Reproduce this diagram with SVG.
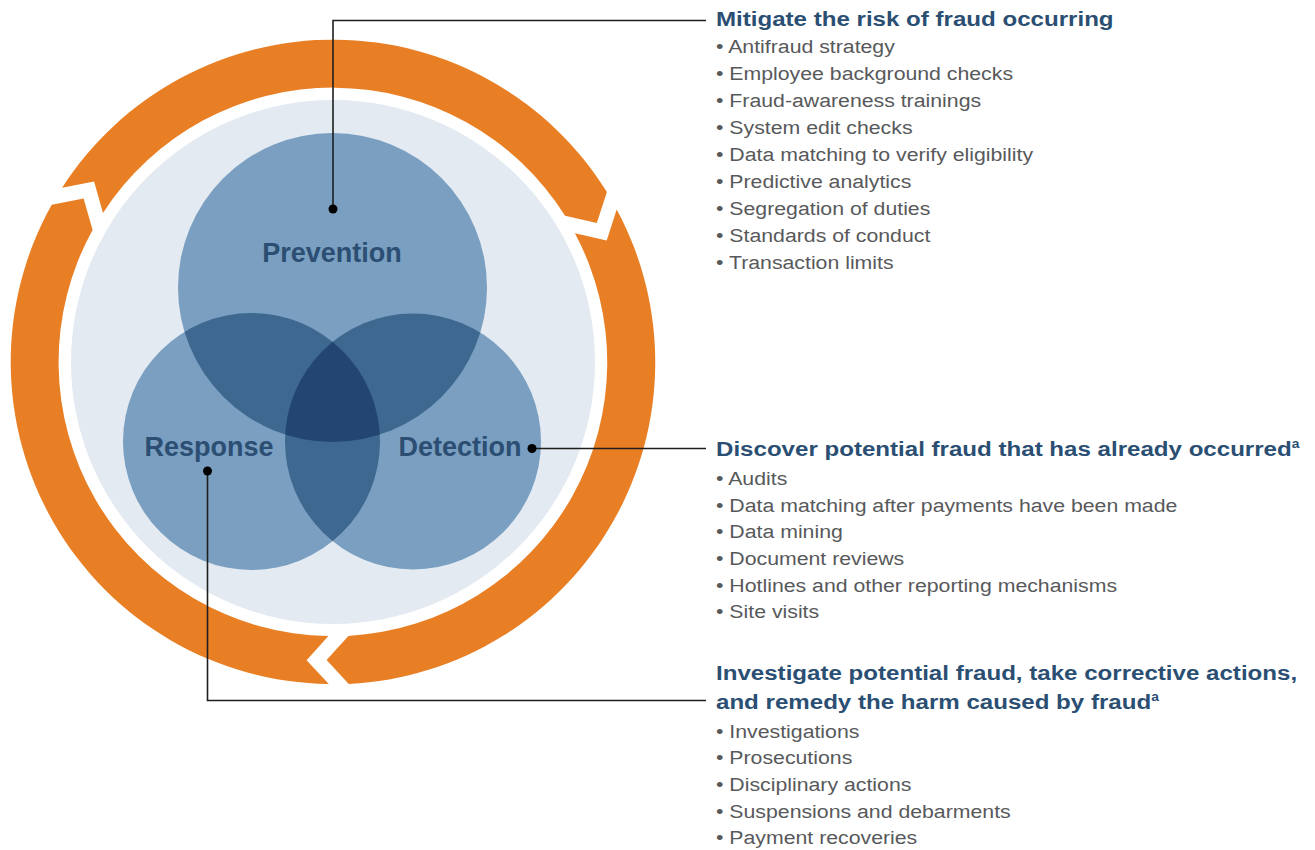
<svg xmlns="http://www.w3.org/2000/svg" width="1315" height="850" viewBox="0 0 1315 850">
<style>
.ring{fill:#e97f24}
.bg{fill:#e3eaf1}
.single{fill:#7a9fc1}
.double{fill:#3e6890}
.triple{fill:#22466f}
.vlabel{font-family:"Liberation Sans",Arial,sans-serif;font-weight:bold;font-size:27px;fill:#2b4e72;text-anchor:middle}
.title{font-family:"Liberation Sans",Arial,sans-serif;font-weight:bold;font-size:21px;fill:#2b4f73}
.item{font-family:"Liberation Sans",Arial,sans-serif;font-size:19px;fill:#58595b}
.conn{fill:none;stroke:#1e1e1e;stroke-width:1.6}
.dot{fill:#000}
</style>
<defs>
<clipPath id="cP"><circle cx="332.5" cy="287.5" r="154.5"/></clipPath>
<clipPath id="cR"><circle cx="251.5" cy="441.5" r="128.5"/></clipPath>
<clipPath id="cD"><circle cx="413" cy="441.5" r="128"/></clipPath>
</defs>
<rect width="1315" height="850" fill="#fff"/>
<g id="cycle-ring">
<path class="ring" d="M62.1,187.8 A322,322 0 0 1 606.9,192.1 L596.8,223.1 L565.1,215.8 A274,274 0 0 0 103.0,212.9 L94.1,181.6 Z"/>
<path class="ring" d="M616.7,209.5 A322,322 0 0 1 348.8,683.9 L326.6,660.1 L348.4,635.9 A274,274 0 0 0 574.9,233.2 L606.7,240.5 Z"/>
<path class="ring" d="M328.8,684.0 A322,322 0 0 1 51.7,204.8 L83.6,198.6 L92.6,229.9 A274,274 0 0 0 328.4,636.1 L306.6,660.2 Z"/>
</g>
<circle id="background-disc" class="bg" cx="333" cy="362" r="262"/>
<g id="venn">
<g id="prevention"><circle class="single" cx="332.5" cy="287.5" r="154.5"/></g>
<g id="response"><circle class="single" cx="251.5" cy="441.5" r="128.5"/></g>
<g id="detection"><circle class="single" cx="413" cy="441.5" r="128"/></g>
<g id="overlaps">
<g clip-path="url(#cP)"><circle class="double" cx="251.5" cy="441.5" r="128.5"/><circle class="double" cx="413" cy="441.5" r="128"/></g>
<g clip-path="url(#cR)"><circle class="double" cx="413" cy="441.5" r="128"/></g>
<g clip-path="url(#cP)"><g clip-path="url(#cR)"><circle class="triple" cx="413" cy="441.5" r="128"/></g></g>
</g>
<text class="vlabel" x="332" y="262">Prevention</text>
<text class="vlabel" x="209" y="456">Response</text>
<text class="vlabel" x="460" y="456">Detection</text>
</g>
<g id="connectors">
<polyline class="conn" points="333,209 333,20.5 706,20.5"/>
<polyline class="conn" points="532,448.5 706,448.5"/>
<polyline class="conn" points="207.5,471 207.5,700.5 706,700.5"/>
<circle class="dot" cx="333" cy="209" r="4.5"/>
<circle class="dot" cx="532" cy="448.5" r="4.5"/>
<circle class="dot" cx="207.5" cy="471" r="4.5"/>
</g>
<g id="prevention-text">
<text class="title" transform="matrix(1.148 0 0 1 716 26)">Mitigate the risk of fraud occurring</text>
<g transform="matrix(1.12 0 0 1 716 0)">
<text class="item" x="0" y="53">• Antifraud strategy</text>
<text class="item" x="0" y="80">• Employee background checks</text>
<text class="item" x="0" y="107">• Fraud-awareness trainings</text>
<text class="item" x="0" y="134">• System edit checks</text>
<text class="item" x="0" y="161">• Data matching to verify eligibility</text>
<text class="item" x="0" y="188">• Predictive analytics</text>
<text class="item" x="0" y="215">• Segregation of duties</text>
<text class="item" x="0" y="242">• Standards of conduct</text>
<text class="item" x="0" y="269">• Transaction limits</text>
</g>
</g>
<g id="detection-text">
<text class="title" transform="matrix(1.148 0 0 1 716 456)">Discover potential fraud that has already occurred<tspan font-size="12" dy="-8">a</tspan></text>
<g transform="matrix(1.12 0 0 1 716 0)">
<text class="item" x="0" y="485">• Audits</text>
<text class="item" x="0" y="512">• Data matching after payments have been made</text>
<text class="item" x="0" y="538">• Data mining</text>
<text class="item" x="0" y="565">• Document reviews</text>
<text class="item" x="0" y="592">• Hotlines and other reporting mechanisms</text>
<text class="item" x="0" y="618">• Site visits</text>
</g>
</g>
<g id="response-text">
<text class="title" transform="matrix(1.148 0 0 1 716 680)">Investigate potential fraud, take corrective actions,</text>
<text class="title" transform="matrix(1.148 0 0 1 716 709)">and remedy the harm caused by fraud<tspan font-size="12" dy="-8">a</tspan></text>
<g transform="matrix(1.12 0 0 1 716 0)">
<text class="item" x="0" y="738">• Investigations</text>
<text class="item" x="0" y="764">• Prosecutions</text>
<text class="item" x="0" y="791">• Disciplinary actions</text>
<text class="item" x="0" y="818">• Suspensions and debarments</text>
<text class="item" x="0" y="844">• Payment recoveries</text>
</g>
</g>
</svg>
